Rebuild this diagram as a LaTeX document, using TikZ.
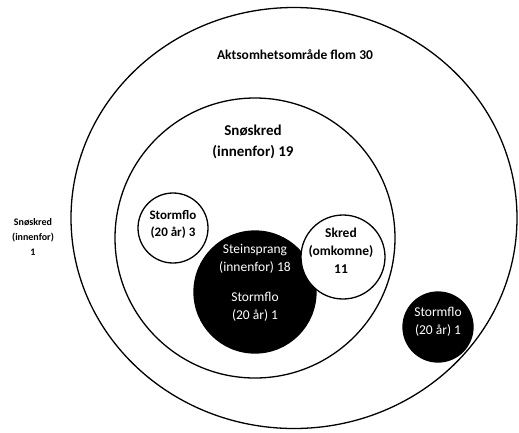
\documentclass[tikz,border=0pt]{standalone}
\usepackage{fontspec}
\setmainfont{Carlito}
\usetikzlibrary{shapes.geometric}

\begin{document}
\begin{tikzpicture}[x=1pt, y=-1pt,
    ring/.style={draw, circle, line width=1.3pt, fill=white, inner sep=0pt},
    dark/.style={ring, fill=black},
    lbl/.style={font=\fontsize{13}{17}\selectfont\bfseries, align=center, inner sep=0pt},
    wlbl/.style={font=\fontsize{13.5}{18}\selectfont, text=white, align=center, inner sep=0pt}
  ]
    \useasboundingbox (0,0) rectangle (519,432);
    % sets
    \node[draw, ellipse, line width=1.3pt, minimum width=446pt, minimum height=421pt,
      inner sep=0pt] (flom) at (294,218) {};
    \node[ring, minimum size=280pt] (snoskred) at (255,238) {};
    \node[ring, minimum size=70pt] (storm3) at (173,228) {};
    \node[dark, minimum size=122pt] (stein) at (255,292) {};
    \node[ring, minimum size=84pt] (skred) at (343,257) {};
    \node[dark, minimum size=70pt] (storm1) at (438,327) {};
    % labels
    \node[lbl, font=\fontsize{13.5}{17}\selectfont\bfseries] (flomtxt) at (295,55) {Aktsomhetsområde flom 30};
    \node[lbl, font=\fontsize{15}{21}\selectfont\bfseries] (snotxt) at (253,142) {Snøskred\\(innenfor) 19};
    \node[lbl, font=\fontsize{10}{15}\selectfont\bfseries] (snoute) at (33,237) {Snøskred\\(innenfor)\\1};
    \node[lbl] (storm3txt) at (173,224) {Stormflo\\(20 år) 3};
    \node[lbl, font=\fontsize{13.5}{18}\selectfont\bfseries] (skredtxt) at (341,251) {Skred\\(omkomne)\\11};
    \node[wlbl] (steintxt) at (255,259) {Steinsprang\\(innenfor) 18};
    \node[wlbl] (steinstorm) at (255,307) {Stormflo\\(20 år) 1};
    \node[wlbl] (storm1txt) at (438,322) {Stormflo\\(20 år) 1};
  \end{tikzpicture}
\end{document}
